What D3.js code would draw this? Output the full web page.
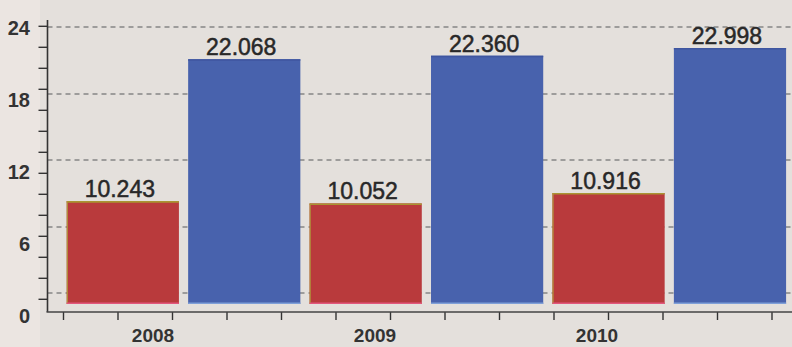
<!DOCTYPE html>
<html>
<head>
<meta charset="utf-8">
<script src="https://cdn.jsdelivr.net/npm/d3@7"></script>
<style>
  body { margin: 0; background: #e5e1dd; }
  svg { display: block; font-family: "Liberation Sans", Arial, sans-serif; }
</style>
</head>
<body>
<div id="chart"></div>
<script>
// values (thousands)
let years = ["2008", "2009", "2010"];
let seriesNames = ["red", "blue"];
let redValues = [10.243, 10.052, 10.916];
let blueValues = [22.068, 22.360, 22.998];
let valueLabels = [["10.243", "22.068"], ["10.052", "22.360"], ["10.916", "22.998"]];
let yTickLabels = [0, 6, 12, 18, 24];
let yMinorTicks = [2.1, 3.85, 5.6, 7.35, 9.1, 10.85, 12.6, 14.35, 16.1, 17.85, 19.6, 21.35, 23.1, 24.85];
let gridValues = [24.75, 19.17, 13.67, 8.08, 2.58];

let svgWidth = 792;
let svgHeight = 347;

let colors = { red: "#b93a3c", blue: "#4862ad" };

let svg = d3.select("#chart")
    .append("svg")
    .attr("width", svgWidth)
    .attr("height", svgHeight);

// paper background, a bit lighter on the left margin
svg.append("rect")
    .attr("width", svgWidth)
    .attr("height", svgHeight)
    .attr("fill", "#e4e0dc");
svg.append("rect")
    .attr("width", 40)
    .attr("height", svgHeight)
    .attr("fill", "#ebe5e1");

// scales
let y = d3.scaleLinear()
    .domain([0, 24])
    .range([324, 36]);

let xGroup = d3.scaleBand()
    .domain(years)
    .range([62.1, 790.7]);

let xInner = d3.scaleBand()
    .domain(seriesNames)
    .range([0, xGroup.bandwidth()])
    .paddingInner(0.076)
    .paddingOuter(0.038);

let xTicks = d3.scaleLinear()
    .domain([0, 13])
    .range([63, 771.5]);

let xLabel = d3.scalePoint()
    .domain(years)
    .range([153, 597]);

let axisX = 47.5;
let axisY = 312;
let barBase = 304;

// dashed gridlines
svg.append("g")
    .selectAll("line")
    .data(gridValues)
    .enter()
    .append("line")
    .attr("x1", axisX)
    .attr("x2", svgWidth)
    .attr("y1", d => y(d))
    .attr("y2", d => y(d))
    .attr("stroke", "#858585")
    .attr("stroke-width", 1.4)
    .attr("stroke-dasharray", "5,4");

// bars
let rows = years.map((yr, i) => ({ year: yr, red: redValues[i], blue: blueValues[i], labels: valueLabels[i] }));

let groups = svg.append("g")
    .selectAll("g")
    .data(rows)
    .enter()
    .append("g")
    .attr("transform", d => `translate(${xGroup(d.year)},0)`);

let bars = groups.selectAll("g")
    .data(d => seriesNames.map((s, j) => ({ name: s, value: d[s], label: d.labels[j] })))
    .enter()
    .append("g");

bars.append("rect")
    .attr("x", d => xInner(d.name))
    .attr("y", d => y(d.value))
    .attr("width", xInner.bandwidth())
    .attr("height", d => barBase - y(d.value))
    .attr("fill", d => colors[d.name]);

// printing misregistration on the edges
bars.append("line")
    .attr("x1", d => xInner(d.name))
    .attr("x2", d => xInner(d.name) + xInner.bandwidth())
    .attr("y1", d => y(d.value) + 0.8)
    .attr("y2", d => y(d.value) + 0.8)
    .attr("stroke", d => d.name === "red" ? "#a99432" : "#3f56a0")
    .attr("stroke-width", 1.6);

bars.filter(d => d.name === "red")
    .append("line")
    .attr("x1", d => xInner(d.name) + 0.6)
    .attr("x2", d => xInner(d.name) + 0.6)
    .attr("y1", d => y(d.value))
    .attr("y2", barBase)
    .attr("stroke", "#b0923a")
    .attr("stroke-width", 1.2);

bars.append("line")
    .attr("x1", d => xInner(d.name))
    .attr("x2", d => xInner(d.name) + xInner.bandwidth())
    .attr("y1", barBase - 0.8)
    .attr("y2", barBase - 0.8)
    .attr("stroke", d => d.name === "red" ? "#e2577c" : "#7f9fd8")
    .attr("stroke-width", 1.6);

// value labels
bars.append("text")
    .attr("x", d => xInner(d.name) + xInner.bandwidth() / 2 - 3)
    .attr("y", d => y(d.value) - 4)
    .attr("text-anchor", "middle")
    .attr("font-size", 23)
    .attr("fill", "#282828")
    .attr("stroke", "#282828")
    .attr("stroke-width", 0.5)
    .text(d => d.label);

// y axis: labels, minor ticks and line
let yLabels = d3.axisLeft(y)
    .tickValues(yTickLabels)
    .tickSize(0)
    .tickPadding(0);

svg.append("g")
    .attr("transform", "translate(30,0)")
    .call(yLabels)
    .call(g => g.select(".domain").remove())
    .selectAll("text")
    .attr("font-family", "'Liberation Sans', Arial, sans-serif")
    .attr("font-size", 20)
    .attr("font-weight", "bold")
    .attr("fill", "#333")
    .attr("dy", "0.32em")
    .attr("transform", "translate(0,-8)");

let yMinor = d3.axisLeft(y)
    .tickValues(yMinorTicks)
    .tickSize(9)
    .tickFormat("");

svg.append("g")
    .attr("transform", `translate(${axisX},0)`)
    .call(yMinor)
    .call(g => g.select(".domain").remove())
    .selectAll("line")
    .attr("stroke", "#333")
    .attr("stroke-width", 1.4);

svg.append("line")
    .attr("x1", axisX)
    .attr("x2", axisX)
    .attr("y1", 20)
    .attr("y2", axisY)
    .attr("stroke", "#333")
    .attr("stroke-width", 1.6);

// x axis
let xAxis = d3.axisBottom(xTicks)
    .tickValues(d3.range(14))
    .tickSize(8)
    .tickFormat("");

svg.append("g")
    .attr("transform", `translate(0,${axisY})`)
    .call(xAxis)
    .call(g => g.select(".domain").remove())
    .selectAll("line")
    .attr("stroke", "#333")
    .attr("stroke-width", 1.4);

svg.append("line")
    .attr("x1", axisX - 1)
    .attr("x2", svgWidth)
    .attr("y1", axisY)
    .attr("y2", axisY)
    .attr("stroke", "#444")
    .attr("stroke-width", 1.6);

// year labels
svg.append("g")
    .selectAll("text")
    .data(years)
    .enter()
    .append("text")
    .attr("x", d => xLabel(d))
    .attr("y", 342)
    .attr("text-anchor", "middle")
    .attr("font-size", 19)
    .attr("font-weight", "bold")
    .attr("fill", "#333")
    .text(d => d);
</script>
</body>
</html>
